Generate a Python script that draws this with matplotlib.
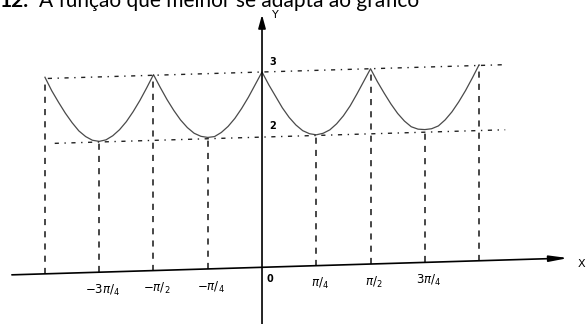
import numpy as np
import matplotlib.pyplot as plt
from matplotlib.transforms import Affine2D

# tick positions in multiples of pi/4 and their labels
tick_k = [-3, -2, -1, 1, 2, 3]
tick_labels = [r'$-3\pi/_4$', r'$-\pi/_2$', r'$-\pi/_4$',
               r'$\pi/_4$', r'$\pi/_2$', r'$3\pi/_4$']

curve_k = np.arange(-4, 4.001, 0.125)
curve_y = [3.02, 2.81, 2.63, 2.46, 2.31, 2.18, 2.09, 2.03, 2.01,
           2.03, 2.09, 2.18, 2.30, 2.45, 2.62, 2.81,
           3.01, 2.81, 2.62, 2.45, 2.30, 2.18, 2.09, 2.04, 2.02,
           2.03, 2.09, 2.18, 2.30, 2.45, 2.62, 2.81,
           3.00, 2.80, 2.62, 2.44, 2.29, 2.17, 2.08, 2.03, 2.01,
           2.03, 2.08, 2.17, 2.29, 2.44, 2.62, 2.81,
           3.00, 2.80, 2.62, 2.45, 2.30, 2.18, 2.09, 2.05, 2.04,
           2.05, 2.09, 2.18, 2.30, 2.45, 2.62, 2.81, 3.01]

# vertical guide lines (multiples of pi/4) and how high they reach
guide_k = [-4, -3, -2, -1, 1, 2, 3, 4]
guide_top = [3, 2, 3, 2, 2, 3, 2, 3]

# horizontal guide levels and their extents (radians)
level_y = [3, 2]
level_x0 = [-3.10, -3.00]
level_x1 = [3.55, 3.52]

fig = plt.figure(figsize=(5.86, 3.24), dpi=100)
ax = fig.add_axes([0, 0, 1, 1])
ax.set_xlim(-3.792, 4.689)
ax.set_ylim(-0.871, 4.106)
ax.axis('off')

# the scanned drawing is slightly slanted
tr = Affine2D(np.array([[1, 0, 0], [0.032, 1, 0], [0, 0, 1]])) + ax.transData

cx = np.array(curve_k) * np.pi / 4
ax.plot(cx, curve_y, color='#4a4a4a', lw=0.9, transform=tr)

for k, top in zip(guide_k, guide_top):
    x = k * np.pi / 4
    ax.plot([x, x], [0, top], color='#151515', lw=1.1,
            dashes=(4, 4), transform=tr)

for y, x0, x1 in zip(level_y, level_x0, level_x1):
    ax.plot([x0, x1], [y, y], color='#222222', lw=1.0,
            dashes=(3, 4, 1, 4), transform=tr)

# axes
ax.annotate('', xy=(4.43, 0), xytext=(-3.62, 0), xycoords=tr, textcoords=tr,
            arrowprops=dict(arrowstyle='-|>,head_length=1.1,head_width=0.18',
                            color='black', lw=1.2, shrinkA=0, shrinkB=0))
ax.annotate('', xy=(0, 3.88), xytext=(0, -0.871), xycoords=tr, textcoords=tr,
            arrowprops=dict(arrowstyle='-|>,head_length=0.8,head_width=0.22',
                            color='black', lw=1.2, shrinkA=0, shrinkB=0))
ax.text(4.62, -0.09, 'X', transform=tr, fontsize=8, ha='center', va='center')
ax.text(0.19, 3.87, 'Y', transform=tr, fontsize=8, ha='center', va='center')

for k, lab in zip(tick_k, tick_labels):
    ax.text(k * np.pi / 4 + 0.05, -0.28, lab, transform=tr, fontsize=8.5,
            ha='center', va='center', fontweight='bold')
ax.text(0.12, -0.19, '0', transform=tr, fontsize=7, ha='center', va='center',
        fontweight='bold')
ax.text(0.15, 3.15, '3', transform=tr, fontsize=7, ha='center', va='center',
        fontweight='bold')
ax.text(0.15, 2.16, '2', transform=tr, fontsize=7, ha='center', va='center',
        fontweight='bold')

# question heading, cut at the top of the scan
fig.text(0.0, 0.9775, '12.', fontsize=15, fontweight='bold',
         family='Lato', va='baseline', ha='left')
fig.text(39 / 586, 0.9775, 'A função que melhor se adapta ao gráfico',
         fontsize=15, family='Lato', va='baseline', ha='left')

fig.savefig('out.png', dpi=100)
